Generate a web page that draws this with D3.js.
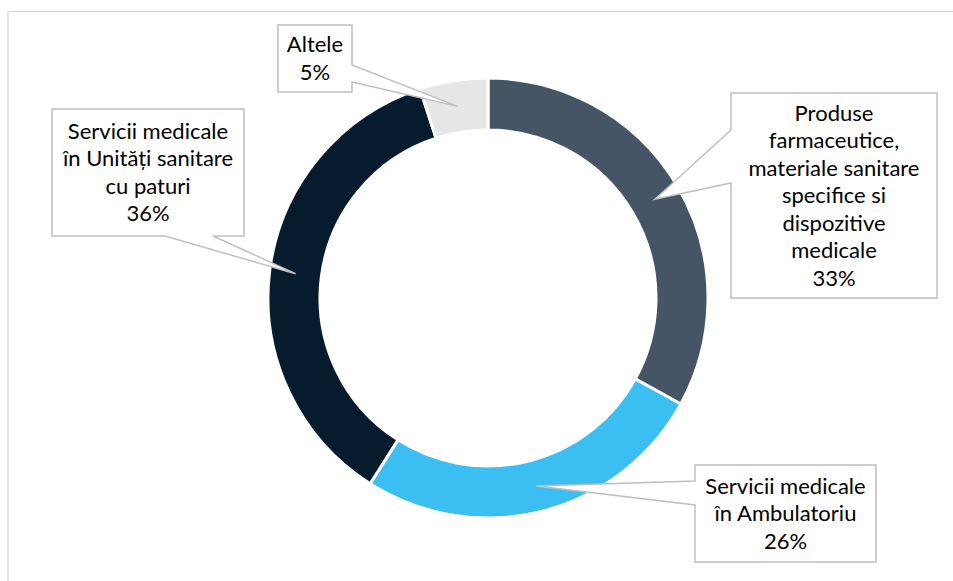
<!DOCTYPE html>
<html>
<head>
<meta charset="utf-8">
<script src="https://cdn.jsdelivr.net/npm/d3@7"></script>
<style>
  html, body { margin: 0; padding: 0; background: #ffffff; }
  svg { display: block; }
</style>
</head>
<body>
<svg id="chart" width="953" height="581"></svg>
<script>
// Spending structure, share of total (%)
const categories = [
  "Produse farmaceutice, materiale sanitare specifice si dispozitive medicale",
  "Servicii medicale în Ambulatoriu",
  "Servicii medicale în Unități sanitare cu paturi",
  "Altele"
];
const labelLines = [
  ["Produse", "farmaceutice,", "materiale sanitare", "specifice si", "dispozitive", "medicale"],
  ["Servicii medicale", "în Ambulatoriu"],
  ["Servicii medicale", "în Unități sanitare", "cu paturi"],
  ["Altele"]
];
const shares = [33, 26, 36, 5];
const colors = ["#455566", "#3BBEF2", "#061C2E", "#E7E6E6"];

// Callout boxes: rectangle plus the edge the pointer leaves from
const callouts = [
  { x0: 731, y0: 93,  x1: 937, y1: 298, edge: "left",   a: 130, b: 183 },
  { x0: 695, y0: 465, x1: 876, y1: 562, edge: "left",   a: 481, b: 505 },
  { x0: 52,  y0: 109, x1: 244, y1: 236, edge: "bottom", a: 165, b: 213 },
  { x0: 278, y0: 25,  x1: 352, y1: 92,  edge: "right",  a: 65,  b: 82 }
];

const svg = d3.select("#chart");
const cx = 488, cy = 298, rOuter = 220, rInner = 168;

// Chart area frame
svg.append("rect")
  .attr("x", 8).attr("y", 11.5)
  .attr("width", 960).attr("height", 600)
  .attr("fill", "none")
  .attr("stroke", "#D9D9D9")
  .attr("stroke-width", 1.3);

const data = categories.map((c, i) => ({ name: c, value: shares[i], i }));
const pie = d3.pie().value(d => d.value).sort(null);
const arcs = pie(data);
const arc = d3.arc().innerRadius(rInner).outerRadius(rOuter);
const mid = d3.arc().innerRadius((rInner + rOuter) / 2).outerRadius((rInner + rOuter) / 2);

const g = svg.append("g").attr("transform", `translate(${cx},${cy})`);
g.selectAll("path.slice")
  .data(arcs)
  .join("path")
  .attr("class", "slice")
  .attr("d", arc)
  .attr("fill", d => colors[d.data.i])
  .attr("stroke", "#ffffff")
  .attr("stroke-width", 3)
  .attr("stroke-linejoin", "miter");

// Callout outline: rectangle with a wedge reaching the slice centroid
function calloutPath(c, tip) {
  const p = [];
  p.push([c.x0, c.y0]);
  if (c.edge === "top") { p.push([c.a, c.y0], tip, [c.b, c.y0]); }
  p.push([c.x1, c.y0]);
  if (c.edge === "right") { p.push([c.x1, c.a], tip, [c.x1, c.b]); }
  p.push([c.x1, c.y1]);
  if (c.edge === "bottom") { p.push([c.b, c.y1], tip, [c.a, c.y1]); }
  p.push([c.x0, c.y1]);
  if (c.edge === "left") { p.push([c.x0, c.b], tip, [c.x0, c.a]); }
  return "M" + p.map(q => q.join(",")).join("L") + "Z";
}

const fontSize = 22, lineH = 27.5;
const labels = svg.append("g");
arcs.forEach(d => {
  const i = d.data.i;
  const c = callouts[i];
  const [mx, my] = mid.centroid(d);
  const tip = [cx + mx, cy + my];
  labels.append("path")
    .attr("d", calloutPath(c, tip))
    .attr("fill", "#ffffff")
    .attr("stroke", "#BFBFBF")
    .attr("stroke-width", 1.5)
    .attr("stroke-linejoin", "miter");
  const lines = labelLines[i].concat([d3.format("d")(d.data.value) + "%"]);
  const bx = (c.x0 + c.x1) / 2, by = (c.y0 + c.y1) / 2;
  const first = by - (lines.length - 1) * lineH / 2 + 7.5;
  const t = labels.append("text")
    .attr("font-family", "Lato, 'Open Sans', sans-serif")
    .attr("font-size", fontSize)
    .attr("fill", "#000000")
    .attr("text-anchor", "middle");
  lines.forEach((ln, k) => {
    t.append("tspan").attr("x", bx).attr("y", first + k * lineH).text(ln);
  });
});
</script>
</body>
</html>
